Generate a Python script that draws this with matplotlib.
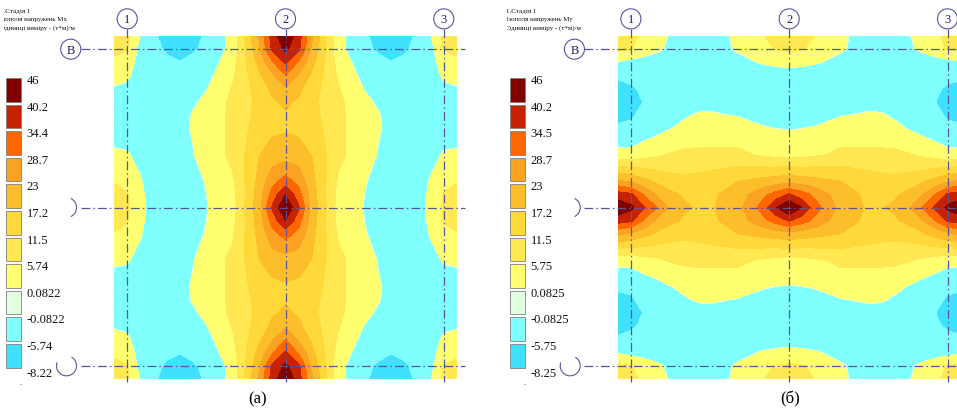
"""Isofields of slab bending moments Mx and My (stage 1), units (т*м)/м."""

import numpy as np
import matplotlib.pyplot as plt
from matplotlib.patches import Arc, Circle, Rectangle

plt.rcParams["font.family"] = ["Liberation Serif", "DejaVu Serif"]

# Node coordinates (m) of one quarter of the slab: from the edge past axis 1 / В
# up to the middle axes (axis 2 and the middle row). The slab is 12 x 12 m
# with 0.5 m overhangs and is symmetric about both middle axes.
QUARTER_NODES = [-0.5, 0.0, 0.5, 1.0, 1.5, 2.0, 2.5, 3.0, 4.0, 5.0, 5.5, 6.0]
SPAN = 12.0

# Mx at the quarter nodes: rows run down from the top edge, columns run right from the left edge
MX_QUARTER = [
    [9.0, 7.0, -0.5, -5.3, -6.8, -8.2, -6.9, -5.2, 1.8, 24.0, 37.0, 45.0],
    [8.0, 6.0, -2.0, -4.6, -6.3, -7.2, -6.2, -4.9, 1.8, 22.0, 35.5, 41.5],
    [4.0, 3.0, -2.5, -4.0, -5.0, -5.6, -4.8, -3.5, 3.5, 19.0, 28.0, 35.0],
    [1.5, 0.8, -2.8, -3.5, -4.2, -4.6, -3.8, -2.0, 5.0, 16.0, 22.0, 28.5],
    [-0.5, -1.0, -3.0, -3.3, -3.8, -3.5, -2.5, -0.3, 6.2, 14.0, 18.5, 22.0],
    [-2.5, -2.5, -3.0, -3.0, -3.3, -2.2, -0.8, 1.2, 7.0, 13.0, 16.5, 18.0],
    [-3.0, -3.0, -3.0, -2.8, -3.0, -1.8, 0.4, 2.3, 7.0, 13.5, 16.0, 16.8],
    [-3.0, -3.0, -3.0, -2.5, -2.5, -1.5, 0.5, 2.5, 7.0, 14.5, 16.0, 16.5],
    [1.0, 0.5, -2.0, -3.0, -3.0, -2.5, -0.3, 2.7, 7.0, 17.0, 19.5, 20.5],
    [5.5, 4.5, 0.5, -3.5, -3.8, -3.7, -2.0, 0.4, 5.0, 19.0, 27.0, 31.0],
    [7.5, 6.0, 1.5, -3.5, -4.0, -4.5, -3.0, -0.1, 4.0, 20.0, 31.0, 40.0],
    [8.0, 6.5, 2.0, -3.0, -4.0, -5.0, -3.5, -0.3, 3.5, 21.0, 35.0, 46.0],
]

# My at the same nodes
MY_QUARTER = [
    [9.0, 8.0, 4.0, 1.5, -0.5, -2.5, -3.0, -3.0, 1.0, 5.5, 7.5, 8.0],
    [7.0, 6.0, 3.0, 0.8, -1.0, -2.5, -3.0, -3.0, 0.5, 4.5, 6.0, 6.5],
    [-0.5, -2.0, -2.5, -2.8, -3.0, -3.0, -3.0, -3.0, -2.0, 0.5, 1.5, 2.0],
    [-5.3, -4.6, -4.0, -3.5, -3.3, -3.0, -2.8, -2.5, -3.0, -3.5, -3.5, -3.0],
    [-6.8, -6.3, -5.0, -4.2, -3.8, -3.3, -3.0, -2.5, -3.0, -3.8, -4.0, -4.0],
    [-8.2, -7.2, -5.6, -4.6, -3.5, -2.2, -1.8, -1.5, -2.5, -3.7, -4.5, -5.0],
    [-6.9, -6.2, -4.8, -3.8, -2.5, -0.8, 0.4, 0.5, -0.3, -2.0, -3.0, -3.5],
    [-5.2, -4.9, -3.5, -2.0, -0.3, 1.2, 2.3, 2.5, 2.7, 0.4, -0.1, -0.3],
    [1.8, 1.8, 3.5, 5.0, 6.2, 7.0, 7.0, 7.0, 7.0, 5.0, 4.0, 3.5],
    [24.0, 22.0, 19.0, 16.0, 14.0, 13.0, 13.5, 14.5, 17.0, 19.0, 20.0, 21.0],
    [37.0, 35.5, 28.0, 22.0, 18.5, 16.5, 16.0, 16.0, 19.5, 27.0, 31.0, 35.0],
    [45.0, 41.5, 35.0, 28.5, 22.0, 18.0, 16.8, 16.5, 20.5, 31.0, 40.0, 46.0],
]

MX_LEVELS = [-8.22, -5.74, -0.0822, 0.0822, 5.74, 11.5, 17.2, 23.0, 28.7, 34.4, 40.2, 46.0]
MY_LEVELS = [-8.25, -5.75, -0.0825, 0.0825, 5.75, 11.5, 17.2, 23.0, 28.7, 34.5, 40.2, 46.0]
MX_LABELS = ["46", "40.2", "34.4", "28.7", "23", "17.2", "11.5", "5.74",
             "0.0822", "-0.0822", "-5.74", "-8.22"]
MY_LABELS = ["46", "40.2", "34.5", "28.7", "23", "17.2", "11.5", "5.75",
             "0.0825", "-0.0825", "-5.75", "-8.25"]

# band colours from the lowest level up
BAND_COLORS = ["#3fe1fe", "#80ffff", "#e0ffe0", "#ffff70", "#ffe852", "#ffd83a",
               "#fdbe2b", "#fca222", "#ff6600", "#c42200", "#800000"]

AXES_X = [0.0, 6.0, 12.0]
AXES_X_NAMES = ["1", "2", "3"]
AXES_Y = [0.0, 6.0, 12.0]

TITLE_MX = ["1.Стадія 1", "Ізополя напружень Мх", "Одиниці виміру - (т*м)/м"]
TITLE_MY = ["1.Стадія 1", "Ізополя напружень Му", "Одиниці виміру - (т*м)/м"]

W, H = 957, 410
GRID_BLUE = "#5656a0"
DASHDOT = (0, (7, 2.5, 1.2, 2.5))


def full_field(quarter):
    q = np.asarray(quarter, dtype=float)
    half = np.hstack([q, q[:, -2::-1]])
    return np.vstack([half, half[-2::-1]])


def draw_panel(fig, left_px, quarter, levels, line_end):
    rect = [left_px / W, 30 / H, 343 / W, 343 / H]
    ax = fig.add_axes(rect)
    nodes = np.array(QUARTER_NODES)
    full_nodes = np.concatenate([nodes, SPAN - nodes[-2::-1]])
    xx, yy = np.meshgrid(full_nodes, full_nodes)
    ax.contourf(xx, yy, full_field(quarter), levels=levels, colors=BAND_COLORS)
    ax.set_xlim(-0.5, 12.5)
    ax.set_ylim(12.5, -0.5)
    ax.axis("off")

    line_kw = dict(color=GRID_BLUE, lw=0.9, ls=DASHDOT, clip_on=False, zorder=3)
    r = 0.38
    for x, name in zip(AXES_X, AXES_X_NAMES):
        ax.plot([x, x], [-1.15 + r, 12.62], **line_kw)
        ax.add_patch(Circle((x, -1.15), r, fill=False, ec=GRID_BLUE, lw=0.8,
                            clip_on=False, zorder=3))
        ax.text(x, -1.13, name, ha="center", va="center", fontsize=9,
                color="#1c1c66", clip_on=False)
    for y in AXES_Y:
        ax.plot([-2.14 + r, line_end], [y, y], **line_kw)

    # row markers: В is drawn in full, the other two are partly hidden by the scale
    ax.add_patch(Circle((-2.14, 0.0), r, fill=False, ec=GRID_BLUE, lw=0.8,
                        clip_on=False, zorder=3))
    ax.text(-2.14, 0.02, "В", ha="center", va="center", fontsize=9,
            color="#1c1c66", clip_on=False)
    ax.add_patch(Arc((-2.3, 6.0), 2 * r, 2 * r, theta1=-65, theta2=65,
                     ec=GRID_BLUE, lw=0.8, clip_on=False, zorder=3))
    ax.add_patch(Arc((-2.3, 12.0), 2 * r, 2 * r, theta1=-60, theta2=200,
                     ec=GRID_BLUE, lw=0.8, clip_on=False, zorder=3))
    return ax


def draw_scale(canvas, x0, labels):
    top, step = 79.0, 26.6
    for i, color in enumerate(BAND_COLORS[::-1]):
        canvas.add_patch(Rectangle((x0, top + i * step), 14.5, 23.5, fc=color,
                                   ec="#808080", lw=0.6))
    for i, text in enumerate(labels):
        canvas.text(x0 + 20.5, top + 2 + i * step, text, ha="left", va="center",
                    fontsize=9, color="#111111")
    canvas.text(x0 + 15, 386, "··", ha="center", va="center", fontsize=5,
                color="#3a3aff")


def draw_title(canvas, x0, lines, mask_to=None):
    for i, text in enumerate(lines):
        canvas.text(x0, 11.5 + i * 8.2, text, ha="left", va="center",
                    fontsize=5.0, color="#111111")
    if mask_to is not None:
        canvas.add_patch(Rectangle((x0 - 4, 0), mask_to - x0 + 4, 34, fc="white",
                                   ec="none", zorder=5))


fig = plt.figure(figsize=(W / 100, H / 100), dpi=100)
canvas = fig.add_axes([0, 0, 1, 1])
canvas.set_xlim(0, W)
canvas.set_ylim(H, 0)
canvas.axis("off")

draw_panel(fig, 114.0, MX_QUARTER, MX_LEVELS, 12.8)
draw_panel(fig, 617.7, MY_QUARTER, MY_LEVELS, 13.2)

draw_scale(canvas, 6.0, MX_LABELS)
draw_scale(canvas, 510.0, MY_LABELS)
draw_title(canvas, 0.5, TITLE_MX, mask_to=3.6)
draw_title(canvas, 506.5, TITLE_MY, mask_to=507.3)

canvas.text(258, 399, "(а)", ha="center", va="center", fontsize=12)
canvas.text(790, 399, "(б)", ha="center", va="center", fontsize=12)

fig.savefig("out.png", dpi=100, facecolor="white")
